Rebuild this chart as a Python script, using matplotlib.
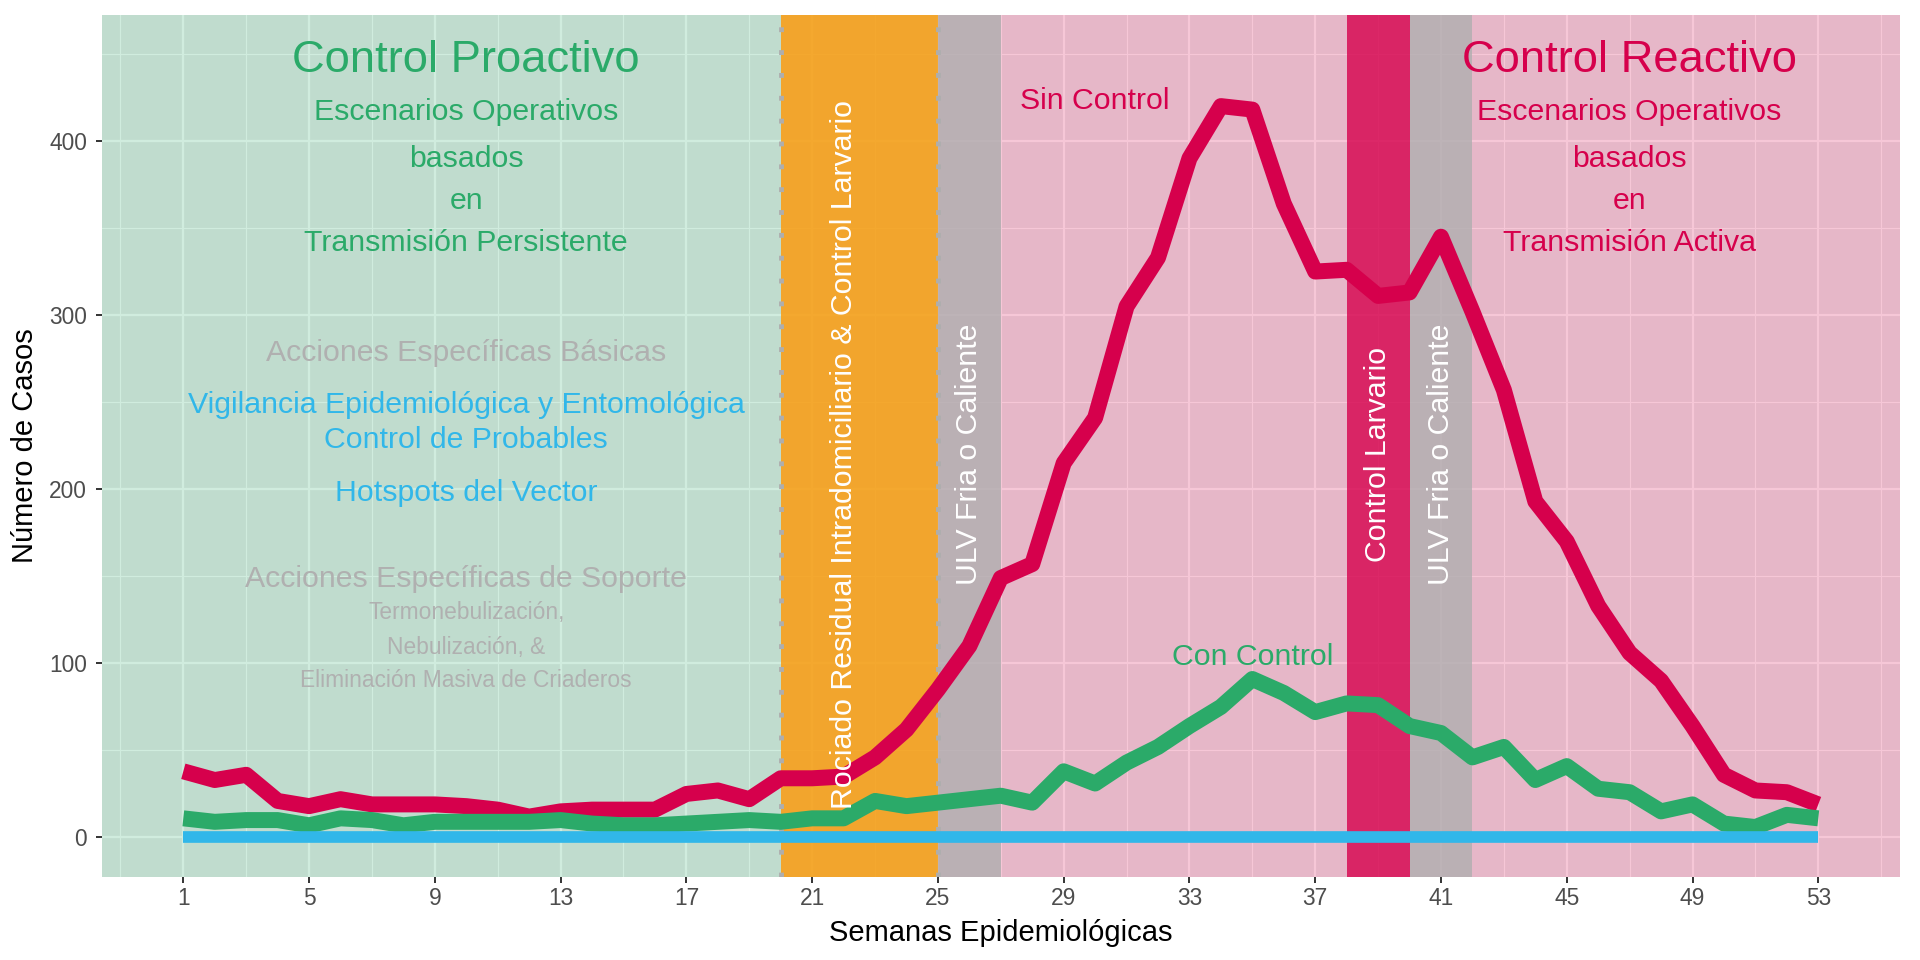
import numpy as np
import matplotlib.pyplot as plt

plt.rcParams['font.family'] = ['Liberation Sans', 'DejaVu Sans']

# Semanas epidemiologicas y casos
semanas = np.arange(1, 54)
sin_control = [38, 33, 36, 21, 18, 22, 19, 19, 19, 18, 16, 12, 15, 16, 16, 16, 25, 27, 22, 34,
               34, 35, 46, 62, 85, 110, 149, 157, 215, 241, 305, 333, 390, 420, 418, 364, 325, 326, 311, 313,
               345, 302, 257, 193, 170, 133, 106, 90, 64, 36, 27, 26, 19]
con_control = [11, 9, 10, 10, 7, 11, 10, 7, 9, 9, 9, 9, 10, 8, 7, 7, 8, 9, 10, 9,
               11, 11, 21, 18, 20, 22, 24, 20, 38, 31, 43, 52, 64, 75, 91, 83, 72, 77, 76, 64,
               60, 46, 52, 33, 41, 28, 26, 15, 19, 8, 6, 13, 11]
umbral = [0] * 53

x_ticks = list(range(1, 54, 4))
y_ticks = [0, 100, 200, 300, 400]

# fases del control (semana inicio, semana fin)
fase_proactiva = (-5, 20)
fase_rociado = (20, 25)
fase_reactiva = (25, 60)
fase_ulv = [(25, 27), (40, 42)]
fase_larvario = (38, 40)
lineas_corte = [20, 25]

verde = '#2BAA69'
rojo = '#D6004C'
azul = '#31B7E9'
gris_txt = '#B0B0B0'

fig = plt.figure(figsize=(19.2, 9.6), dpi=100)
ax = fig.add_axes([0.0529, 0.0868, 0.9896 - 0.0529, 0.9847 - 0.0868])
ax.set_facecolor('#EBEBEB')

# bandas de fondo
ax.axvspan(*fase_proactiva, color=verde, alpha=0.22, lw=0, zorder=1)
ax.axvspan(*fase_reactiva, color=rojo, alpha=0.22, lw=0, zorder=1)
ax.axvspan(*fase_rociado, color='#F39C12', alpha=0.88, lw=0, zorder=1.1)
for a, b in fase_ulv:
    ax.axvspan(a, b, color='#AFAFAF', alpha=0.8, lw=0, zorder=1.1)
ax.axvspan(*fase_larvario, color=rojo, alpha=0.8, lw=0, zorder=1.1)
for xv in lineas_corte:
    ax.axvline(xv, color='#AEAEAE', lw=3.5, dashes=(1, 3.7), zorder=1.2)

# series
ax.plot(semanas, sin_control, color=rojo, lw=11.5, solid_capstyle='butt', solid_joinstyle='round', zorder=2)
ax.plot(semanas, con_control, color=verde, lw=11.5, solid_capstyle='butt', solid_joinstyle='round', zorder=2.1)
ax.plot(semanas, umbral, color=azul, lw=8.4, solid_capstyle='butt', zorder=2.2)

# textos
big, med, small = 32.7, 21.8, 16.4
ax.text(10, 446, 'Control Proactivo', color=verde, fontsize=big, ha='center', va='center', zorder=3)
ax.text(47, 446, 'Control Reactivo', color=rojo, fontsize=big, ha='center', va='center', zorder=3)
lineas_esc = ['Escenarios Operativos', 'basados', 'en']
ys_esc = [416.5, 389.5, 365.5]
for t, y in zip(lineas_esc, ys_esc):
    ax.text(10, y, t, color=verde, fontsize=med, ha='center', va='center', zorder=3)
    ax.text(47, y, t, color=rojo, fontsize=med, ha='center', va='center', zorder=3)
ax.text(10, 341.5, 'Transmisión Persistente', color=verde, fontsize=med, ha='center', va='center', zorder=3)
ax.text(47, 341.5, 'Transmisión Activa', color=rojo, fontsize=med, ha='center', va='center', zorder=3)

ax.text(10, 278, 'Acciones Específicas Básicas', color=gris_txt, fontsize=med, ha='center', va='center', zorder=3)
ax.text(10, 248.5, 'Vigilancia Epidemiológica y Entomológica', color=azul, fontsize=med, ha='center', va='center', zorder=3)
ax.text(10, 228.5, 'Control de Probables', color=azul, fontsize=med, ha='center', va='center', zorder=3)
ax.text(10, 198, 'Hotspots del Vector', color=azul, fontsize=med, ha='center', va='center', zorder=3)
ax.text(10, 148.5, 'Acciones Específicas de Soporte', color=gris_txt, fontsize=med, ha='center', va='center', zorder=3)
ax.text(10, 129, 'Termonebulización,', color=gris_txt, fontsize=small, ha='center', va='center', zorder=3)
ax.text(10, 109, 'Nebulización, &', color=gris_txt, fontsize=small, ha='center', va='center', zorder=3)
ax.text(10, 90, 'Eliminación Masiva de Criaderos', color=gris_txt, fontsize=small, ha='center', va='center', zorder=3)

ax.text(30, 423, 'Sin Control', color=rojo, fontsize=med, ha='center', va='center', zorder=3)
ax.text(35, 103.5, 'Con Control', color=verde, fontsize=med, ha='center', va='center', zorder=3)

ax.text(22, 220, 'Rociado Residual Intradomiciliario & Control Larvario', color='white', fontsize=med,
        rotation=90, ha='center', va='center', zorder=3)
ax.text(26, 220, 'ULV Fria o Caliente', color='white', fontsize=med, rotation=90, ha='center', va='center', zorder=3)
ax.text(41, 220, 'ULV Fria o Caliente', color='white', fontsize=med, rotation=90, ha='center', va='center', zorder=3)
ax.text(39, 220, 'Control Larvario', color='white', fontsize=med, rotation=90, ha='center', va='center', zorder=3)

# ejes
ax.set_xlim(-1.6, 55.6)
ax.set_ylim(-22.5, 472.5)
ax.set_xticks(x_ticks)
ax.set_xticks([x - 2 for x in x_ticks] + [55], minor=True)
ax.set_yticks(y_ticks)
ax.set_yticks([50, 150, 250, 350, 450], minor=True)
ax.set_axisbelow(True)
ax.grid(which='major', color='white', lw=1.6)
ax.grid(which='minor', color='white', lw=0.8)
for s in ax.spines.values():
    s.set_visible(False)
ax.tick_params(which='major', length=4.5, width=1.4, color='#333333', labelcolor='#4D4D4D', labelsize=16.4)
ax.tick_params(axis='x', pad=3)
ax.tick_params(axis='y', pad=6)
ax.tick_params(which='minor', length=0)

ax.set_xlabel('Semanas Epidemiológicas', fontsize=21)
ax.set_ylabel('Número de Casos', fontsize=21)
ax.xaxis.set_label_coords(0.5, -0.049)
ax.yaxis.set_label_coords(-0.0348, 0.5)

fig.savefig('out.png', dpi=100)
